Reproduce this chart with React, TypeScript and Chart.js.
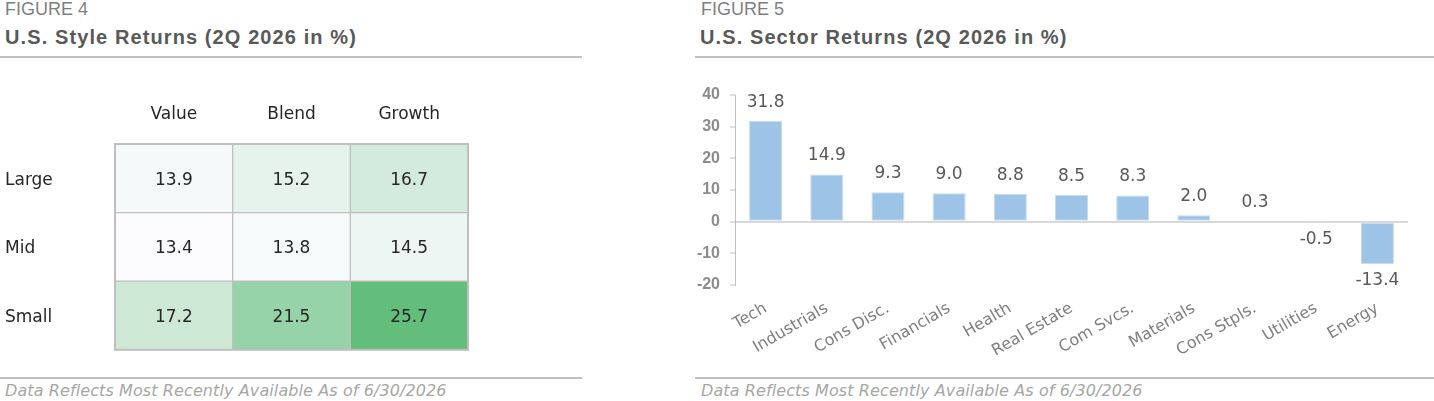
import React, { useEffect, useRef } from 'react';
import { Chart, registerables } from 'chart.js';

Chart.register(...registerables);

// ---------- data ----------
const styleColumns = ['Value', 'Blend', 'Growth'];
const styleRows = ['Large', 'Mid', 'Small'];
const largeReturns = [13.9, 15.2, 16.7];
const midReturns = [13.4, 13.8, 14.5];
const smallReturns = [17.2, 21.5, 25.7];

const sectors = ['Tech', 'Industrials', 'Cons Disc.', 'Financials', 'Health', 'Real Estate', 'Com Svcs.', 'Materials', 'Cons Stpls.', 'Utilities', 'Energy'];
const sectorReturns = [31.8, 14.9, 9.3, 9.0, 8.8, 8.5, 8.3, 2.0, 0.3, -0.5, -13.4];
const sectorTicks = [40, 30, 20, 10, 0, -10, -20];

// ---------- styles ----------
const GOTHIC = '"DejaVu Sans", sans-serif';
const ARIAL = '"Liberation Sans", Arial, sans-serif';
const LOW_COLOR = [252, 252, 255];
const HIGH_COLOR = [99, 190, 123];

function scaleColor(v: number, min: number, max: number) {
  const t = (v - min) / (max - min);
  const c = LOW_COLOR.map((lo, i) => Math.round(lo + (HIGH_COLOR[i] - lo) * t));
  return `rgb(${c[0]},${c[1]},${c[2]})`;
}

function HeatmapChart() {
  const ref = useRef<HTMLCanvasElement>(null);
  useEffect(() => {
    const rowsData = [largeReturns, midReturns, smallReturns];
    const all = rowsData.flat();
    const min = Math.min(...all);
    const max = Math.max(...all);
    const cellText = {
      id: 'cellText',
      afterDatasetsDraw(chart: any) {
        const ctx = chart.ctx;
        ctx.save();
        const a = chart.chartArea;
        ctx.strokeStyle = '#bfbfbf';
        ctx.lineWidth = 2;
        ctx.strokeRect(a.left, a.top, a.right - a.left, a.bottom - a.top);
        ctx.fillStyle = '#262626';
        ctx.font = `17px ${GOTHIC}`;
        ctx.textAlign = 'center';
        ctx.textBaseline = 'middle';
        rowsData.forEach((vals, i) => {
          const meta = chart.getDatasetMeta(i);
          meta.data.forEach((bar: any, j: number) => {
            const p = bar.getProps(['x', 'y', 'base'], true);
            ctx.fillText(vals[j].toFixed(1), p.x, (p.y + p.base) / 2 + 2);
          });
        });
        ctx.restore();
      },
    };
    const chart = new Chart(ref.current!, {
      type: 'bar',
      data: {
        labels: styleColumns,
        datasets: rowsData.map((vals, r) => ({
          label: styleRows[r],
          data: vals.map(() => [r, r + 1]),
          backgroundColor: vals.map((v) => scaleColor(v, min, max)),
          borderColor: '#bfbfbf',
          borderWidth: 1,
          borderSkipped: false,
          barPercentage: 1,
          categoryPercentage: 1,
          grouped: false,
        })) as any,
      },
      options: {
        animation: false,
        responsive: false,
        events: [],
        layout: { padding: { left: 5, top: 44, right: 114, bottom: 10 } },
        plugins: { legend: { display: false }, tooltip: { enabled: false } },
        scales: {
          x: {
            type: 'category',
            position: 'top',
            grid: { display: false, drawTicks: false },
            border: { display: false },
            ticks: { color: '#262626', font: { family: GOTHIC, size: 17 }, padding: 19 },
            afterFit: (s: any) => { s.height = 40; },
          },
          y: {
            type: 'linear',
            min: 0,
            max: 3,
            reverse: true,
            grid: { display: false, drawTicks: false },
            border: { display: false },
            afterBuildTicks: (s: any) => { s.ticks = styleRows.map((_, i) => ({ value: i + 0.5 })); },
            ticks: {
              callback: (_v: any, i: number) => styleRows[i],
              crossAlign: 'far',
              color: '#262626',
              font: { family: GOTHIC, size: 17 },
              padding: 0,
              labelOffset: 2,
            },
            afterFit: (s: any) => { s.width = 110; },
          },
        },
      } as any,
      plugins: [cellText],
    });
    return () => chart.destroy();
  }, []);
  return <canvas ref={ref} width={582} height={300} style={{ position: 'absolute', left: 0, top: 60 }} />;
}

function SectorChart() {
  const ref = useRef<HTMLCanvasElement>(null);
  useEffect(() => {
    const valueLabels = {
      id: 'valueLabels',
      afterDatasetsDraw(chart: any) {
        const ctx = chart.ctx;
        ctx.save();
        ctx.fillStyle = '#595959';
        ctx.font = `17px ${GOTHIC}`;
        ctx.textAlign = 'center';
        const meta = chart.getDatasetMeta(0);
        meta.data.forEach((bar: any, i: number) => {
          const v = sectorReturns[i];
          const p = bar.getProps(['x', 'y'], true);
          if (v >= 0) {
            ctx.textBaseline = 'bottom';
            ctx.fillText(v.toFixed(1), p.x, p.y - 10);
          } else {
            ctx.textBaseline = 'top';
            ctx.fillText(v.toFixed(1), p.x, p.y + 8);
          }
        });
        ctx.restore();
      },
    };
    const chart = new Chart(ref.current!, {
      type: 'bar',
      data: {
        labels: sectors,
        datasets: [{
          data: sectorReturns,
          backgroundColor: '#9dc3e6',
          borderColor: '#c6dcf1',
          borderWidth: 1,
          borderSkipped: false,
          barPercentage: 0.9,
          categoryPercentage: 0.6,
        }],
      },
      options: {
        animation: false,
        responsive: false,
        events: [],
        layout: { padding: { left: 0, top: 25, right: 26, bottom: 0 } },
        plugins: { legend: { display: false }, tooltip: { enabled: false } },
        scales: {
          x: {
            grid: { display: false, drawTicks: false },
            border: { display: false },
            ticks: {
              autoSkip: false,
              minRotation: 30,
              maxRotation: 30,
              color: '#7f7f7f',
              font: { family: GOTHIC, size: 16 },
              padding: 14,
            },
            afterFit: (s: any) => { s.height = 75; },
          },
          y: {
            min: -20,
            max: 40,
            afterBuildTicks: (s: any) => { s.ticks = sectorTicks.map((v) => ({ value: v })); },
            grid: {
              color: (c: any) => (c.tick && c.tick.value === 0 ? '#d9d9d9' : 'rgba(0,0,0,0)'),
              lineWidth: 2,
              tickColor: '#bfbfbf',
              tickLength: 5,
              tickWidth: 1,
            },
            border: { color: '#bfbfbf', width: 1 },
            ticks: {
              color: '#8c8c8c',
              font: { family: ARIAL, size: 16, weight: 'bold' },
              padding: 10,
            },
            afterFit: (s: any) => { s.width = 40; },
          },
        },
      } as any,
      plugins: [valueLabels],
    });
    return () => chart.destroy();
  }, []);
  return <canvas ref={ref} width={739} height={290} style={{ position: 'absolute', left: 695, top: 70 }} />;
}

const figLabel: React.CSSProperties = { position: 'absolute', top: 0, fontFamily: ARIAL, fontSize: 18, lineHeight: '18px', color: '#7f7f7f', whiteSpace: 'nowrap' };
const titleStyle: React.CSSProperties = { position: 'absolute', top: 27, fontFamily: ARIAL, fontWeight: 'bold', fontSize: 20, lineHeight: '20px', color: '#595959', letterSpacing: '1.1px', whiteSpace: 'nowrap' };
const footStyle: React.CSSProperties = { position: 'absolute', top: 383, fontFamily: GOTHIC, fontStyle: 'italic', fontSize: 16, lineHeight: '16px', color: '#a6a6a6', letterSpacing: '0.1px', whiteSpace: 'nowrap' };
const rule = (left: number, top: number, width: number): React.CSSProperties => ({ position: 'absolute', left, top, width, height: 2, background: '#c0c0c0' });

export default function App() {
  return (
    <div style={{ position: 'absolute', left: 0, top: 0, width: 1434, height: 401, overflow: 'hidden', background: '#ffffff' }}>
      <div style={{ ...figLabel, left: 5 }}>FIGURE 4</div>
      <div style={{ ...titleStyle, left: 5 }}>U.S. Style Returns (2Q 2026 in %)</div>
      <div style={rule(0, 56, 582)} />
      <HeatmapChart />
      <div style={rule(0, 377, 582)} />
      <div style={{ ...footStyle, left: 5 }}>Data Reflects Most Recently Available As of 6/30/2026</div>

      <div style={{ ...figLabel, left: 701 }}>FIGURE 5</div>
      <div style={{ ...titleStyle, left: 700 }}>U.S. Sector Returns (2Q 2026 in %)</div>
      <div style={rule(695, 56, 739)} />
      <SectorChart />
      <div style={rule(695, 377, 739)} />
      <div style={{ ...footStyle, left: 701 }}>Data Reflects Most Recently Available As of 6/30/2026</div>
    </div>
  );
}
